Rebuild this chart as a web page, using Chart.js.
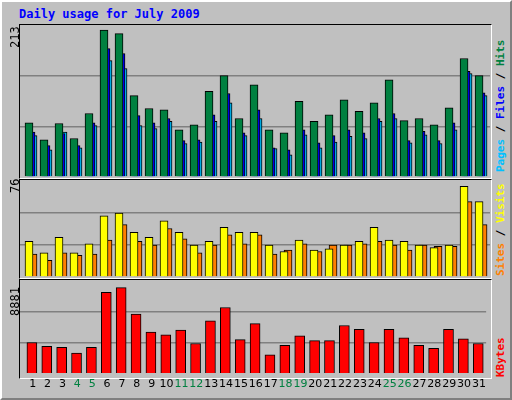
<!DOCTYPE html>
<html>
<head>
<meta charset="utf-8">
<script src="https://cdn.jsdelivr.net/npm/chart.js@4/dist/chart.umd.min.js"></script>
<style>
  body { margin: 0; width: 512px; height: 400px; overflow: hidden; background: #c0c0c0; font-family: "DejaVu Sans Mono", monospace; }
  #frame { position: absolute; left: 0; top: 0; width: 508px; height: 396px; border-top: 2px solid #fff; border-left: 2px solid #fff; border-right: 2px solid #808080; border-bottom: 2px solid #808080; }
  .panel { position: absolute; left: 19px; width: 471px; border-top: 1px solid #000; border-left: 1px solid #000; border-right: 1px solid #fff; border-bottom: 1px solid #fff; }
  canvas { position: absolute; }
  .lbl { position: absolute; transform-origin: left top; transform: rotate(-90deg); font-size: 12px; white-space: nowrap; }
  .rlbl { position: absolute; transform-origin: left top; transform: rotate(-90deg); font-size: 11px; font-weight: bold; white-space: nowrap; }
  #title { position: absolute; left: 19px; top: 7px; color: #0000ff; font-weight: bold; font-size: 12px; }
</style>
</head>
<body>
<div id="frame"></div>
<div id="title">Daily usage for July 2009</div>
<div class="panel" style="top:24px;height:153px"></div>
<div class="panel" style="top:179px;height:98px"></div>
<div class="panel" style="top:279px;height:98px"></div>
<canvas id="c1" style="left:20px;top:25px"></canvas>
<canvas id="c2" style="left:20px;top:180px"></canvas>
<canvas id="c3" style="left:20px;top:280px"></canvas>
<div class="lbl" style="left:8px;top:48px">213</div>
<div class="lbl" style="left:8px;top:193px">76</div>
<div class="lbl" style="left:8px;top:316px">8881</div>
<div class="rlbl" style="left:494px;top:172px"><span style="color:#00c0ff">Pages</span> / <span style="color:#0000ff">Files</span> / <span style="color:#008040">Hits</span></div>
<div class="rlbl" style="left:494px;top:276px"><span style="color:#ff8000">Sites</span> / <span style="color:#ffff00">Visits</span></div>
<div class="rlbl" style="left:494px;top:377px"><span style="color:#ff0000">KBytes</span></div>
<script>
const days = ['1','2','3','4','5','6','7','8','9','10','11','12','13','14','15','16','17','18','19','20','21','22','23','24','25','26','27','28','29','30','31'];
const weekend = ['4','5','11','12','18','19','25','26'];
const hits = [76,52,75,54,89,206,201,114,96,94,66,73,120,142,82,129,66,62,106,78,87,108,92,104,136,79,82,73,97,166,142];
const files = [63,44,61,44,76,180,173,86,76,82,51,52,87,117,62,94,41,38,66,48,58,66,62,82,89,51,64,51,76,148,118];
const pages = [58,38,63,41,72,163,152,72,68,78,47,49,78,104,58,82,40,31,59,41,49,57,54,78,82,48,59,47,66,145,114];
const sites = [28,19,31,19,26,48,50,35,31,44,35,25,28,39,35,35,25,20,29,21,22,25,28,39,29,28,25,23,25,71,59];
const visits = [18,13,19,17,18,29,41,28,25,38,30,19,25,33,26,33,18,21,26,20,25,25,26,28,25,21,25,24,24,59,41];
const kbytes = [2960,2600,2510,1970,2510,7710,8160,5650,3950,3680,4130,2870,5020,6280,3230,4750,1790,2690,3590,3140,3140,4570,4220,2960,4220,3410,2690,2420,4220,3320,2870];
const maxes = [213, 76, 8881];

// every series gets its own x axis so the overlapped bars can be nudged right
function make(id, h, max, sets, showX) {
  const cv = document.getElementById(id);
  cv.width = 470; cv.height = h;
  cv.style.width = '470px'; cv.style.height = h + 'px';
  const scales = {
    y: {
      min: 0, max: max,
      afterBuildTicks: s => { s.ticks = [0, max / 3, max * 2 / 3, max].map(v => ({ value: v })); },
      ticks: { display: false },
      grid: { drawTicks: false, color: c => (c.tick.value > 0 && c.tick.value < max) ? '#808080' : 'rgba(0,0,0,0)', lineWidth: 1.5 },
      border: { display: false }
    }
  };
  const datasets = sets.map((s, k) => {
    const id = 'x' + k;
    scales[id] = {
      type: 'linear', min: 0.4 - s.shift, max: 31.73 - s.shift, offset: false,
      display: showX && k == 0,
      grid: { display: false, drawTicks: false }, border: { display: false },
      ticks: {
        autoSkip: false, maxRotation: 0, padding: 4,
        font: { family: 'DejaVu Sans', size: 11 },
        color: c => weekend.includes(days[c.index]) ? '#008040' : '#000',
        callback: (v, i) => days[i]
      },
      afterBuildTicks: sc => { sc.ticks = days.map((d, i) => ({ value: i + 1.25 - s.shift })); }
    };
    return {
      xAxisID: id,
      data: s.values.map((v, i) => ({ x: i + 1, y: v })),
      backgroundColor: s.color, borderColor: '#000', borderWidth: 1,
      barThickness: s.width, grouped: false
    };
  });
  new Chart(cv, {
    type: 'bar',
    data: { datasets: datasets },
    options: {
      responsive: false, animation: false,
      layout: { padding: 0 },
      plugins: { legend: { display: false }, tooltip: { enabled: false } },
      scales: scales
    }
  });
}

make('c1', 152, maxes[0], [
  { values: hits, shift: 0, color: '#008040', width: 8 },
  { values: files, shift: 0.133, color: '#0000ff', width: 8 },
  { values: pages, shift: 0.267, color: '#00c0ff', width: 8 }
], false);
make('c2', 97, maxes[1], [
  { values: sites, shift: 0, color: '#ffff00', width: 8 },
  { values: visits, shift: 0.267, color: '#ff8000', width: 8 }
], false);
make('c3', 115, maxes[2], [
  { values: kbytes, shift: 0.2, color: '#ff0000', width: 10 }
], true);
</script>
</body>
</html>
